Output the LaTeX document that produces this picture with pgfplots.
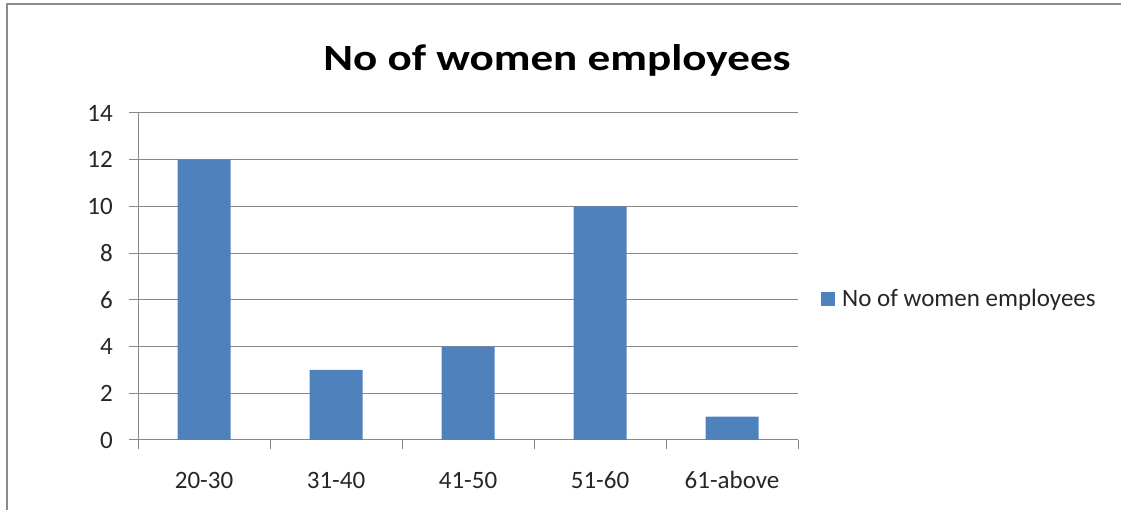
\documentclass[border=0pt]{standalone}
\usepackage{fontspec}
\setmainfont{Carlito}
\usepackage{pgfplots}
\pgfplotsset{compat=1.18}
\definecolor{barblue}{HTML}{4F81BD}
\definecolor{gridgray}{HTML}{878787}
\definecolor{framegray}{HTML}{8C8C8C}
\begin{document}
\begin{tikzpicture}
\useasboundingbox (0,0) rectangle (1121pt,510pt);
% chart frame (left and top edges)
\draw[framegray, line width=2pt] (7pt,0pt) -- (7pt,506pt) -- (1121pt,506pt);
% title
\node[font=\fontsize{37}{40}\selectfont\bfseries] at (557pt,450pt)
  {\scalebox{1.22}[1]{No of women employees}};
\begin{axis}[
  at={(138pt,70pt)}, anchor=south west,
  scale only axis, width=660pt, height=327pt,
  xmin=-0.5, xmax=4.5, ymin=0, ymax=14,
  axis lines*=left,
  axis line style={gridgray, line width=1pt},
  ybar, bar width=53pt,
  xtick={0,1,2,3,4},
  xticklabels={20-30,31-40,41-50,51-60,61-above},
  minor xtick={-0.5,0.5,1.5,2.5,3.5,4.5},
  ytick={0,2,...,14},
  tick align=outside,
  major tick length=9pt,
  minor tick length=9pt,
  x tick style={draw=none},
  minor x tick style={draw=gridgray, line width=1pt},
  y tick style={draw=gridgray, line width=1pt},
  ymajorgrids,
  grid style={gridgray, line width=1pt},
  /pgf/number format/assume math mode=true,
  tick label style={font=\fontsize{25}{30}\selectfont, text=black!85},
  yticklabel style={anchor=east, inner sep=0pt, xshift=-16pt},
  xticklabel style={anchor=center, inner sep=0pt, yshift=-31pt},
  legend style={at={(1,0.431)}, anchor=west, xshift=23pt, draw=none, fill=none,
    inner sep=0pt, font=\fontsize{25}{30}\selectfont, text=black!85,
    nodes={inner sep=0pt},
    /tikz/every odd column/.append style={column sep=7pt}},
  legend image code/.code={\fill[barblue] (0pt,-7pt) rectangle (14pt,7pt);},
]
\addplot[fill=barblue, draw=none] coordinates {(0,12) (1,3) (2,4) (3,10) (4,1)};
\addlegendentry{No of women employees}
\end{axis}
\end{tikzpicture}
\end{document}
